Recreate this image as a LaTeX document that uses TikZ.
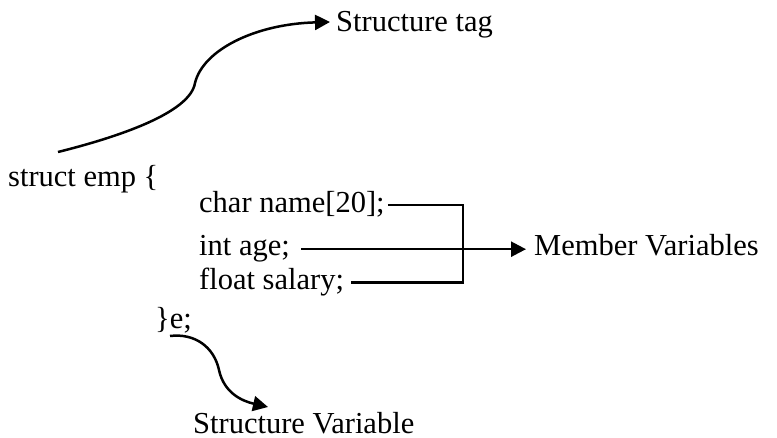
\documentclass[tikz,border=0pt]{standalone}
\usepackage{fontspec}
\setmainfont{Liberation Serif}
\usetikzlibrary{arrows.meta}

\tikzset{
  code/.style={anchor=base west, inner xsep=3pt, inner ysep=0pt, font=\fontsize{30.5}{36}\selectfont},
  target/.style={code, inner xsep=8pt},
  conn/.style={line width=2.5pt},
  pointer/.style={conn, -{Triangle[length=15pt,width=15pt]}}
}

\begin{document}
\begin{tikzpicture}[x=1pt, y=-1pt]
    \useasboundingbox (0,0) rectangle (777,438);

    % the code lines
    \node[code] (head) at (5,187) {struct emp \{};
    \node[code] (name) at (196,213) {char name[20];};
    \node[code] (age) at (196,256) {int age;};
    \node[code] (salary) at (196,290) {float salary;};
    \node[code] (close) at (152,329) {\}e;};

    % the labels
    \node[target] (tag) at (328,32) {Structure tag};
    \node[target] (members) at (526,256) {Member Variables};
    \node[code] (var) at (190,433) {Structure Variable};

    \coordinate (tagstart) at (58,152);
    \coordinate (tagtip) at (330,22);
    \coordinate (varstart) at (170,336);
    \coordinate (vartip) at (268,407);
    \coordinate (bar) at (463,248);

    \draw[pointer] (tagstart) .. controls (118,137) and (190,113) .. (195,83)
        .. controls (203,50) and (255,24) .. (tagtip);

    \draw[conn] (name.east) -- (name.east -| bar) -- (salary.east -| bar) -- ([xshift=4pt]salary.east);
    \draw[pointer, shorten <=8pt] (age.east) -- (age.east -| members.west);

    \draw[pointer] (varstart) .. controls (195,333) and (214,347) .. (219,370)
        .. controls (224,393) and (242,401) .. (vartip);
\end{tikzpicture}
\end{document}
